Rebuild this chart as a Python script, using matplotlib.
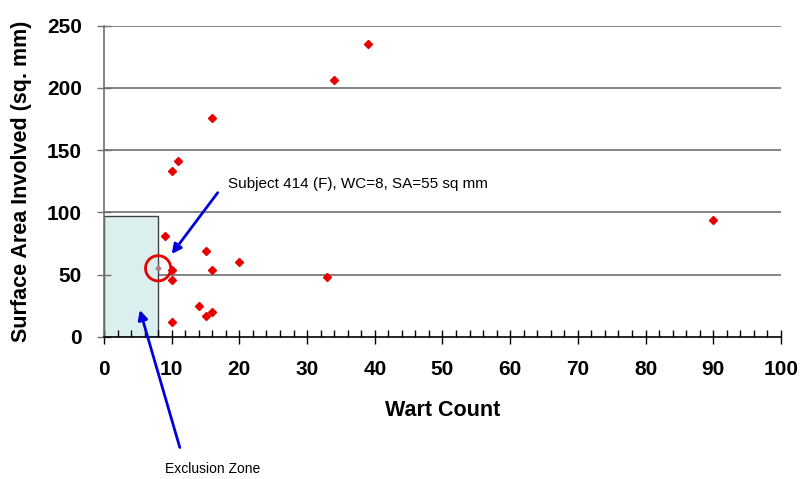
import matplotlib
matplotlib.use("Agg")
import matplotlib.pyplot as plt
from matplotlib.patches import Rectangle
from matplotlib.ticker import MultipleLocator

# wart count vs surface area (sq. mm)
wart_count = [39, 34, 16, 11, 10, 9, 15, 20, 16, 10, 10, 33, 90, 14, 15, 16, 10]
surface_area = [235, 206, 176, 141, 133, 81, 69, 60, 54, 54, 46, 48, 94, 25, 17, 20, 12]

# highlighted subject
subject_wc = [8]
subject_sa = [55]

# exclusion zone box
zone_wc = 8
zone_sa = 97

plt.rcParams['font.family'] = ['Liberation Sans', 'DejaVu Sans']

fig = plt.figure(figsize=(8.01, 4.79), dpi=100)
ax = fig.add_axes([0.1298, 0.297, 0.8452, 0.6493])

ax.add_patch(Rectangle((0, 0), zone_wc, zone_sa, facecolor='#dcefef',
                       edgecolor='#404040', linewidth=1.0, zorder=1))

for y in [50, 100, 150, 200, 250]:
    ax.axhline(y, color='#707070', linewidth=1.2, zorder=0.5)

ax.plot(wart_count, surface_area, linestyle='none', marker='D', markersize=3.6,
        color='#e60000', zorder=3)
ax.plot(subject_wc, subject_sa, linestyle='none', marker='D', markersize=2.5,
        color='#b07878', zorder=3)
ax.scatter(subject_wc, subject_sa, s=330, facecolors='none', edgecolors='#e60000',
           linewidths=2, zorder=4)

ax.set_xlim(0, 100)
ax.set_ylim(0, 250)
ax.xaxis.set_major_locator(MultipleLocator(10))
ax.xaxis.set_minor_locator(MultipleLocator(2))
ax.yaxis.set_major_locator(MultipleLocator(50))

for s in ['top', 'right']:
    ax.spines[s].set_visible(False)
ax.spines['left'].set_color('#707070')
ax.spines['left'].set_linewidth(1.2)
ax.spines['bottom'].set_color('black')
ax.spines['bottom'].set_linewidth(1.2)

ax.tick_params(axis='x', which='major', direction='inout', length=10, width=1, pad=12)
ax.tick_params(axis='x', which='minor', direction='in', length=5, width=1)
ax.tick_params(axis='y', which='major', direction='inout', length=10, width=1,
               color='#707070', pad=11)
for lab in ax.get_xticklabels() + ax.get_yticklabels():
    lab.set_fontweight('bold')
    lab.set_fontsize(15)

ax.set_xlabel('Wart Count', fontsize=15.5, fontweight='bold')
ax.set_ylabel('Surface Area Involved (sq. mm)', fontsize=15.5, fontweight='bold')
ax.xaxis.set_label_coords(0.5, -0.2035)
ax.yaxis.set_label_coords(-0.106, 0.5)

# subject callout
ax.text(18.3, 122.6, 'Subject 414 (F), WC=8, SA=55 sq mm', fontsize=11,
        ha='left', va='center')
ax.annotate('', xy=(10, 66.5), xytext=(16.8, 115.8),
            arrowprops=dict(arrowstyle='-|>', color='#0000dd', lw=2,
                            mutation_scale=14, shrinkA=0, shrinkB=0))

# exclusion zone callout
ax.annotate('', xy=(5.3, 21.5), xytext=(11.2, -89),
            arrowprops=dict(arrowstyle='-|>', color='#0000dd', lw=2,
                            mutation_scale=14, shrinkA=0, shrinkB=0),
            annotation_clip=False)
ax.text(9.0, -106, 'Exclusion Zone', fontsize=10, ha='left', va='center')

fig.savefig('out.png', dpi=100)
